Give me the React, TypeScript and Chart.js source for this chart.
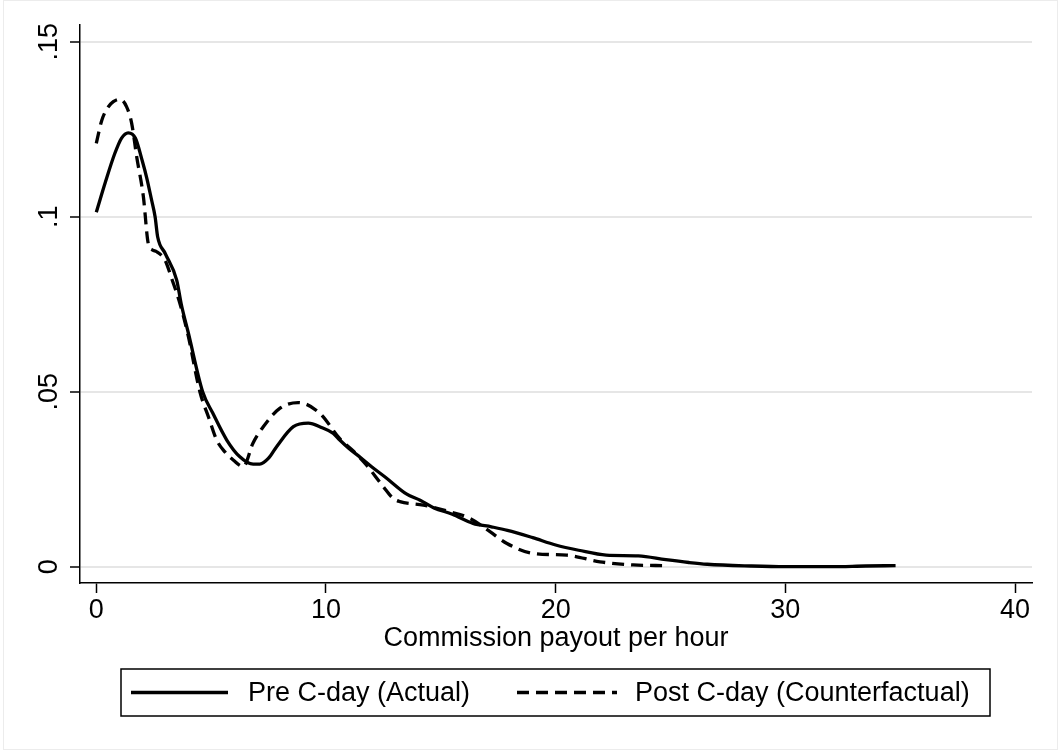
import React, { useEffect, useRef } from 'react';
import { Chart, registerables } from 'chart.js';

Chart.register(...registerables);

// ---- Data ----
const preX = [0, 0.4, 0.8, 1.1, 1.39, 1.7, 2.0, 2.2, 2.4, 2.56, 2.67, 3.0, 3.5, 3.7, 4.0, 4.63, 5.07, 5.68, 6.25, 6.83, 7.12, 7.5, 7.85, 8.58, 9.23, 9.8, 10.32, 10.6, 11.0, 11.5, 12.0, 12.6, 13.5, 14.1, 14.7, 15.5, 16.4, 17.2, 17.9, 19.0, 20.0, 21.0, 22.2, 23.6, 24.8, 25.8, 26.6, 28.5, 30.0, 32.0, 33.5, 34.8];
const preY = [0.1013, 0.110, 0.118, 0.1225, 0.124, 0.1225, 0.116, 0.111, 0.105, 0.100, 0.0943, 0.0895, 0.0819, 0.075, 0.067, 0.050, 0.0439, 0.0362, 0.0314, 0.0293, 0.0293, 0.031, 0.0343, 0.040, 0.041, 0.0398, 0.0381, 0.0362, 0.0338, 0.0312, 0.0285, 0.0255, 0.0208, 0.019, 0.0168, 0.015, 0.0124, 0.0114, 0.0104, 0.0083, 0.0062, 0.0047, 0.0033, 0.0031, 0.002, 0.0012, 0.0007, 0.0002, 0.0, 0.0, 0.0002, 0.0003];

const postX = [0, 0.24, 0.5, 0.74, 1.03, 1.32, 1.54, 1.76, 2.05, 2.26, 2.45, 2.63, 2.99, 3.3, 3.65, 4.0, 4.51, 4.9, 5.24, 5.6, 5.96, 6.4, 6.82, 7.27, 8.0, 8.79, 9.74, 10.61, 11.2, 11.77, 12.49, 12.93, 13.22, 14.24, 15.4, 16.27, 17.14, 17.86, 19.02, 20.48, 21.93, 23.38, 24.9];
const postY = [0.121, 0.1276, 0.1312, 0.1329, 0.1336, 0.1314, 0.1267, 0.1171, 0.1057, 0.0924, 0.0905, 0.090, 0.0876, 0.082, 0.075, 0.066, 0.050, 0.0425, 0.0362, 0.0328, 0.0305, 0.0286, 0.0353, 0.040, 0.0453, 0.0469, 0.0438, 0.0365, 0.033, 0.029, 0.0229, 0.0195, 0.0186, 0.0176, 0.0157, 0.0138, 0.010, 0.0067, 0.0038, 0.0033, 0.0014, 0.0005, 0.0003];

const seriesLabels = ['Pre C-day (Actual)', 'Post C-day (Counterfactual)'];
const xTicks = [0, 10, 20, 30, 40];
const xTickLabels = ['0', '10', '20', '30', '40'];
const yTicks = [0, 0.05, 0.1, 0.15];
const yTickLabels = ['0', '.05', '.1', '.15'];
const xTitle = 'Commission payout per hour';

// ---- Styling / layout ----
const W = 1058;
const H = 750;
const FONT = "'Liberation Sans', Arial, Helvetica, sans-serif";
const FONT_SIZE = 27;
const LEG = { x: 121, y: 669, w: 869, h: 47, keys: [[131, 228, 248], [517, 617, 635]] };

const toPoints = (xs: number[], ys: number[]) => xs.map((x, i) => ({ x, y: ys[i] }));

const framePlugin = {
  id: 'stataFrame',
  beforeDraw(chart: any) {
    const ctx = chart.ctx;
    ctx.save();
    ctx.fillStyle = '#ffffff';
    ctx.fillRect(0, 0, chart.width, chart.height);
    ctx.strokeStyle = '#ececec';
    ctx.lineWidth = 1;
    ctx.strokeRect(3.5, 0.5, chart.width - 4, chart.height - 1);
    ctx.restore();
  },
  afterDraw(chart: any) {
    const ctx = chart.ctx;
    ctx.save();
    ctx.strokeStyle = '#000';
    ctx.lineWidth = 1.5;
    ctx.setLineDash([]);
    ctx.strokeRect(LEG.x, LEG.y, LEG.w, LEG.h);
    const cy = LEG.y + LEG.h / 2;
    chart.data.datasets.forEach((ds: any, i: number) => {
      const [x1, x2, tx] = LEG.keys[i];
      ctx.beginPath();
      ctx.lineWidth = ds.borderWidth;
      ctx.strokeStyle = ds.borderColor;
      ctx.setLineDash(ds.borderDash || []);
      ctx.moveTo(x1, cy);
      ctx.lineTo(x2, cy);
      ctx.stroke();
      ctx.setLineDash([]);
      ctx.fillStyle = '#000';
      ctx.font = `${FONT_SIZE}px ${FONT}`;
      ctx.textAlign = 'left';
      ctx.textBaseline = 'middle';
      ctx.fillText(ds.label, tx, cy + 1);
    });
    ctx.restore();
  },
};

export default function App() {
  const ref = useRef<HTMLCanvasElement | null>(null);

  useEffect(() => {
    if (!ref.current) return;
    document.body.style.margin = '0';
    const chart = new Chart(ref.current, {
      type: 'line',
      data: {
        datasets: [
          {
            label: seriesLabels[0],
            data: toPoints(preX, preY),
            borderColor: '#000000',
            borderWidth: 3.3,
            pointRadius: 0,
            fill: false,
            cubicInterpolationMode: 'monotone',
          },
          {
            label: seriesLabels[1],
            data: toPoints(postX, postY),
            borderColor: '#000000',
            borderWidth: 3.3,
            borderDash: [12, 7],
            pointRadius: 0,
            fill: false,
            cubicInterpolationMode: 'monotone',
          },
        ],
      },
      options: {
        animation: false,
        responsive: false,
        maintainAspectRatio: false,
        layout: { padding: { top: 25, right: W - 1032, bottom: 0, left: 0 } },
        plugins: { legend: { display: false }, tooltip: { enabled: false } },
        scales: {
          x: {
            type: 'linear',
            min: -0.71,
            max: 40.74,
            afterFit: (s: any) => { s.height = H - 583; },
            afterBuildTicks: (s: any) => { s.ticks = xTicks.map((v) => ({ value: v })); },
            ticks: {
              autoSkip: false,
              maxRotation: 0,
              minRotation: 0,
              padding: 1,
              color: '#000',
              font: { family: FONT, size: FONT_SIZE },
              callback: (v: any) => xTickLabels[xTicks.indexOf(Number(v))] ?? '',
            },
            grid: { drawOnChartArea: false, drawTicks: true, tickLength: 10, tickColor: '#000', tickWidth: 1.5 },
            border: { display: true, color: '#000', width: 1.5 },
            title: {
              display: true,
              text: xTitle,
              color: '#000',
              font: { family: FONT, size: FONT_SIZE },
              padding: { top: 0, bottom: 95 },
            },
          },
          y: {
            type: 'linear',
            min: -0.00466,
            max: 0.1548,
            afterFit: (s: any) => { s.width = 80; },
            afterBuildTicks: (s: any) => { s.ticks = yTicks.map((v) => ({ value: v })); },
            ticks: {
              autoSkip: false,
              minRotation: 90,
              maxRotation: 90,
              crossAlign: 'center',
              padding: 2,
              color: '#000',
              font: { family: FONT, size: FONT_SIZE },
              callback: (v: any) => {
                const i = yTicks.findIndex((t) => Math.abs(t - Number(v)) < 1e-9);
                return i >= 0 ? yTickLabels[i] : '';
              },
            },
            grid: { color: '#e6e6e6', lineWidth: 2, drawTicks: true, tickLength: 10, tickColor: '#000', tickWidth: 1.5 },
            border: { display: true, color: '#000', width: 1.5 },
          },
        },
      },
      plugins: [framePlugin],
    } as any);
    return () => chart.destroy();
  }, []);

  return (
    <div style={{ position: 'fixed', left: 0, top: 0, width: W, height: H, background: '#fff' }}>
      <canvas ref={ref} width={W} height={H} style={{ width: W, height: H, display: 'block' }} />
    </div>
  );
}
